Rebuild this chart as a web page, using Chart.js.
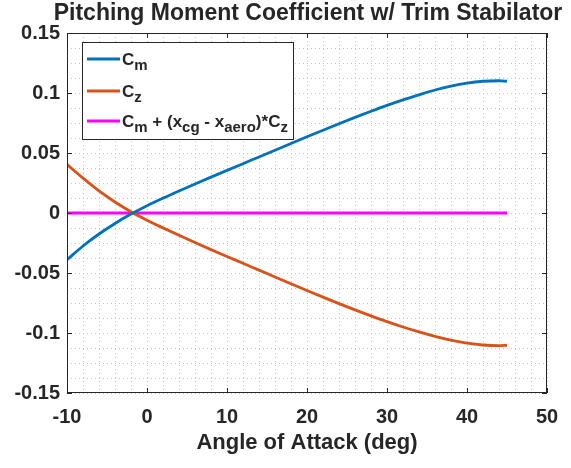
<!DOCTYPE html>
<html>
<head>
<meta charset="utf-8">
<script src="https://cdn.jsdelivr.net/npm/chart.js@4.4.1/dist/chart.umd.min.js"></script>
<style>
    html, body { margin: 0; padding: 0; background: #fff; }
    #wrap { width: 571px; height: 468px; }
</style>
</head>
<body>
<div id="wrap"><canvas id="chart" width="571" height="468"></canvas></div>
<script>
// angle of attack (deg)
const angles = [-10, -8, -6, -4, -2, 0, 2, 4, 6, 8, 10, 12, 14, 16, 18, 20, 22, 24, 26, 28, 30, 32, 34, 36, 38, 40, 42, 44, 45];
// pitching moment coefficient
const cm = [-0.0390, -0.0275, -0.0175, -0.0087, -0.0009, 0.0061, 0.0124, 0.0184, 0.0242, 0.0299, 0.0355, 0.0411, 0.0467, 0.0523, 0.0579, 0.0635, 0.0690, 0.0744, 0.0797, 0.0848, 0.0897, 0.0943, 0.0985, 0.1025, 0.1058, 0.1083, 0.1098, 0.1102, 0.1098];
// normal force coefficient
const cz = [0.0405, 0.0290, 0.0185, 0.0092, 0.0010, -0.0060, -0.0124, -0.0186, -0.0246, -0.0305, -0.0362, -0.0419, -0.0476, -0.0533, -0.0590, -0.0646, -0.0701, -0.0755, -0.0807, -0.0857, -0.0905, -0.0950, -0.0991, -0.1028, -0.1060, -0.1085, -0.1100, -0.1105, -0.1102];
// trimmed moment
const cmTrim = [0, 0, 0, 0, 0, 0, 0, 0, 0, 0, 0, 0, 0, 0, 0, 0, 0, 0, 0, 0, 0, 0, 0, 0, 0, 0, 0, 0, 0];

const xTicks = [-10, 0, 10, 20, 30, 40, 50];
const yTicks = [-0.15, -0.1, -0.05, 0, 0.05, 0.1, 0.15];

const chartTitle = 'Pitching Moment Coefficient w/ Trim Stabilator';
const xTitle = 'Angle of Attack (deg)';
// legend entries as [text, subscript] runs
const legendItems = [
    { color: '#0072BD', runs: [['C', 'm']] },
    { color: '#D95319', runs: [['C', 'z']] },
    { color: '#FF00FF', runs: [['C', 'm'], [' + (x', 'cg'], [' - x', 'aero'], [')*C', 'z']] }
];

const FONT = '"Liberation Sans", Arial, Helvetica, sans-serif';
const INK = '#262626';

function pts(ys) {
    return angles.map((a, i) => ({ x: a, y: ys[i] }));
}

const isMajor = (v, step) => Math.abs(v / step - Math.round(v / step)) < 1e-6;

const decor = {
    id: 'decor',
    afterDatasetsDraw(chart) {
        const { ctx, chartArea: a, scales } = chart;
        ctx.save();

        // axes box + inward ticks
        ctx.strokeStyle = INK;
        ctx.lineWidth = 1;
        ctx.strokeRect(a.left + 0.5, a.top + 0.5, a.right - a.left - 1, a.bottom - a.top - 1);
        ctx.beginPath();
        xTicks.forEach(v => {
            const px = Math.round(scales.x.getPixelForValue(v)) + 0.5;
            ctx.moveTo(px, a.bottom); ctx.lineTo(px, a.bottom - 5);
            ctx.moveTo(px, a.top); ctx.lineTo(px, a.top + 5);
        });
        yTicks.forEach(v => {
            const py = Math.round(scales.y.getPixelForValue(v)) + 0.5;
            ctx.moveTo(a.left, py); ctx.lineTo(a.left + 5, py);
            ctx.moveTo(a.right, py); ctx.lineTo(a.right - 5, py);
        });
        ctx.stroke();

        // title
        ctx.fillStyle = INK;
        ctx.font = 'bold 23px ' + FONT;
        ctx.textAlign = 'center';
        ctx.textBaseline = 'alphabetic';
        ctx.fillText(chartTitle, (a.left + a.right) / 2 + 1, 20);

        // legend
        const bx = 82, by = 42, bw = 211, bh = 97;
        ctx.fillStyle = '#fff';
        ctx.fillRect(bx, by, bw, bh);
        ctx.strokeStyle = INK;
        ctx.lineWidth = 1;
        ctx.strokeRect(bx + 0.5, by + 0.5, bw, bh);
        const rowY = [59, 91, 121];
        legendItems.forEach((it, i) => {
            const y = rowY[i];
            ctx.strokeStyle = it.color;
            ctx.lineWidth = 2.8;
            ctx.beginPath();
            ctx.moveTo(87, y); ctx.lineTo(120, y);
            ctx.stroke();
            let x = 122;
            ctx.fillStyle = INK;
            ctx.textAlign = 'left';
            it.runs.forEach(([main, sub]) => {
                ctx.font = 'bold 17px ' + FONT;
                ctx.fillText(main, x, y + 6);
                x += ctx.measureText(main).width;
                ctx.font = 'bold 15px ' + FONT;
                ctx.fillText(sub, x, y + 11);
                x += ctx.measureText(sub).width;
            });
        });

        ctx.restore();
    }
};

new Chart(document.getElementById('chart'), {
    type: 'line',
    data: {
        datasets: [
            { label: 'Cm', data: pts(cm), borderColor: '#0072BD' },
            { label: 'Cz', data: pts(cz), borderColor: '#D95319' },
            { label: 'Cm + (xcg - xaero)*Cz', data: pts(cmTrim), borderColor: '#FF00FF' }
        ].map(d => Object.assign(d, {
            borderWidth: 2.8,
            pointRadius: 0,
            fill: false,
            cubicInterpolationMode: 'monotone'
        }))
    },
    options: {
        responsive: false,
        animation: false,
        layout: { padding: { top: 33, right: 24, left: 0, bottom: 0 } },
        plugins: {
            legend: { display: false },
            title: { display: false },
            tooltip: { enabled: false }
        },
        scales: {
            x: {
                type: 'linear',
                min: -10,
                max: 50,
                afterFit: s => { s.height = 75; },
                border: { display: false, dash: [1, 3] },
                grid: { color: '#c4c4c4', drawTicks: false },
                ticks: {
                    stepSize: 2,
                    autoSkip: false,
                    maxRotation: 0,
                    padding: 12,
                    color: INK,
                    font: { family: FONT, size: 20, weight: 'bold' },
                    callback: v => isMajor(v, 10) ? String(Math.round(v)) : ''
                },
                title: {
                    display: true,
                    text: xTitle,
                    color: INK,
                    font: { family: FONT, size: 22, weight: 'bold' },
                    padding: { top: 0, bottom: 12 }
                }
            },
            y: {
                min: -0.15,
                max: 0.15,
                afterFit: s => { s.width = 67; },
                border: { display: false, dash: [1, 3] },
                grid: { color: '#c4c4c4', drawTicks: false },
                ticks: {
                    stepSize: 0.0125,
                    autoSkip: false,
                    padding: 7,
                    color: INK,
                    font: { family: FONT, size: 20, weight: 'bold' },
                    callback: v => isMajor(v, 0.05) ? String(Number(v.toFixed(4))) : ''
                }
            }
        }
    },
    plugins: [decor]
});
</script>
</body>
</html>
